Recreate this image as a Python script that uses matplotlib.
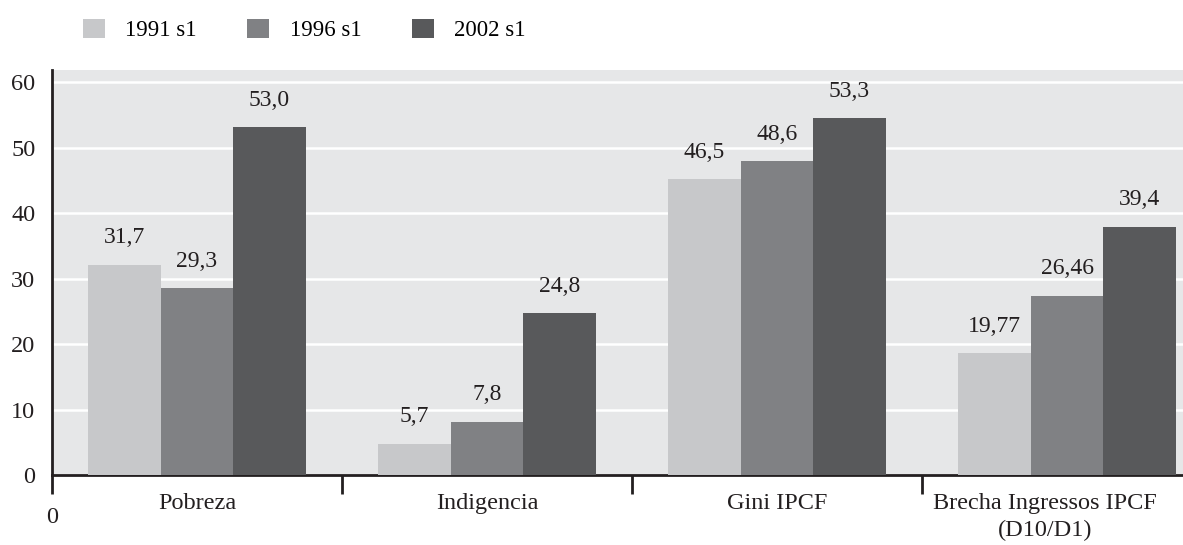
import matplotlib.pyplot as plt
import numpy as np
from matplotlib.transforms import ScaledTranslation

# categories and series (bar heights, labels as printed)
categories = ['Pobreza', 'Indigencia', 'Gini IPCF', 'Brecha Ingressos IPCF\n(D10/D1)']
series_names = ['1991 s1', '1996 s1', '2002 s1']
v1991 = [32.1, 4.8, 45.2, 18.6]
v1996 = [28.5, 8.1, 47.9, 27.4]
v2002 = [53.1, 24.7, 54.5, 37.9]
lab1991 = ['31,7', '5,7', '46,5', '19,77']
lab1996 = ['29,3', '7,8', '48,6', '26,46']
lab2002 = ['53,0', '24,8', '53,3', '39,4']
yticks = [0, 10, 20, 30, 40, 50, 60]

colors = ['#c7c8ca', '#808184', '#58595b']
txt = '#231f20'

plt.rcParams['font.family'] = ['Liberation Serif', 'DejaVu Serif']

fig = plt.figure(figsize=(11.83, 5.45), dpi=100)
ax = fig.add_axes([52 / 1183, 70 / 545, 1131 / 1183, 405 / 545])
ax.set_facecolor('#e6e7e8')

x = np.arange(len(categories))
w = 0.25
for i, (vals, labs) in enumerate(zip([v1991, v1996, v2002], [lab1991, lab1996, lab2002])):
    bars = ax.bar(x + (i - 1) * w, vals, w, color=colors[i], label=series_names[i], zorder=3)
    for b, s in zip(bars, labs):
        ax.annotate(s, (b.get_x() + b.get_width() / 2, b.get_height()),
                    xytext=(0, 12), textcoords='offset points',
                    ha='center', va='bottom', fontsize=17, color=txt)

ax.set_ylim(0, 61.88)
ax.set_xlim(-0.5, 3.40)
ax.set_yticks(yticks)
ax.yaxis.grid(True, color='white', linewidth=1.8, zorder=1)
ax.set_axisbelow(True)
ax.tick_params(axis='y', length=0, pad=12, labelsize=17.5, labelcolor=txt)

# separators below the axis, and the stray "0" under the y axis
ax.set_xticks([-0.5, 0.5, 1.5, 2.5])
ax.set_xticklabels(['0', '', '', ''])
ax.tick_params(axis='x', which='major', length=14, width=2, color=txt,
               pad=9, labelsize=17.5, labelcolor=txt)
ax.set_xticks(x, minor=True)
ax.set_xticklabels(categories, minor=True)
ax.tick_params(axis='x', which='minor', length=0, pad=13, labelsize=17.5, labelcolor=txt)
last = ax.get_xticklabels(minor=True)[-1]
last.set_transform(last.get_transform() + ScaledTranslation(-0.22, 0, fig.dpi_scale_trans))
last.set_linespacing(1.35)

for s in ['top', 'right']:
    ax.spines[s].set_visible(False)
for s in ['left', 'bottom']:
    ax.spines[s].set_linewidth(2)
    ax.spines[s].set_color(txt)

ax.legend(loc='upper left', bbox_to_anchor=(83 / 1183, 1 - 19 / 545),
          bbox_transform=fig.transFigure, ncol=3, frameon=False,
          fontsize=16.5, handlelength=0.95, handleheight=0.9,
          handletextpad=0.9, columnspacing=2.2, borderpad=0, borderaxespad=0)

fig.savefig('out.png', dpi=100)
